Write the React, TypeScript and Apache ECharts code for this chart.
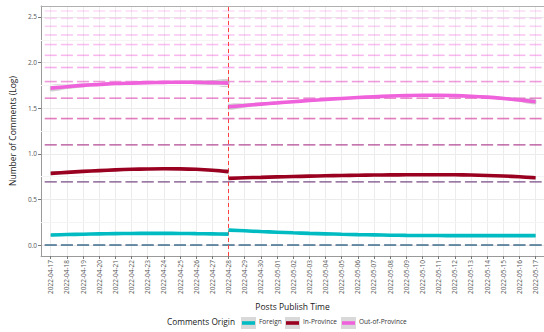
import React, { useEffect, useRef } from "react";
import * as echarts from "echarts";

// Publication dates (x axis categories, indexed 0..30)
const dates = [
  "2022-04-17", "2022-04-18", "2022-04-19", "2022-04-20", "2022-04-21",
  "2022-04-22", "2022-04-23", "2022-04-24", "2022-04-25", "2022-04-26",
  "2022-04-27", "2022-04-28", "2022-04-29", "2022-04-30", "2022-05-01",
  "2022-05-02", "2022-05-03", "2022-05-04", "2022-05-05", "2022-05-06",
  "2022-05-07", "2022-05-08", "2022-05-09", "2022-05-10", "2022-05-11",
  "2022-05-12", "2022-05-13", "2022-05-14", "2022-05-15", "2022-05-16",
  "2022-05-17",
];
const cutoffIndex = 11; // 2022-04-28

const yMajorTicks = [0, 0.5, 1, 1.5, 2, 2.5];
const yMinorTicks = [0.25, 0.75, 1.25, 1.75, 2.25];

// Observed per-post comment counts for each origin (plotted as log)
const foreignCounts = [1, 2, 3];
const inProvinceCounts = [1, 2, 3, 4, 5, 6];
const outProvinceCounts = [1, 2, 3, 4, 5, 6, 7, 8, 9, 10, 11, 12, 13];

// Smoothed fits before the cutoff (days 0..11) and after it (days 11..30)
const foreignPre = [0.11, 0.115, 0.119, 0.122, 0.125, 0.127, 0.128, 0.128, 0.127, 0.125, 0.123, 0.12];
const foreignPost = [0.164, 0.156, 0.148, 0.141, 0.134, 0.128, 0.123, 0.118, 0.114, 0.111, 0.108, 0.106, 0.105, 0.104, 0.103, 0.103, 0.103, 0.103, 0.103, 0.103];
const inProvincePre = [0.786, 0.797, 0.807, 0.816, 0.824, 0.83, 0.834, 0.836, 0.835, 0.83, 0.82, 0.805];
const inProvincePost = [0.731, 0.737, 0.742, 0.747, 0.751, 0.755, 0.759, 0.762, 0.765, 0.767, 0.769, 0.77, 0.771, 0.771, 0.77, 0.767, 0.763, 0.757, 0.748, 0.737];
const outProvincePre = [1.72, 1.735, 1.75, 1.76, 1.77, 1.775, 1.78, 1.783, 1.785, 1.783, 1.78, 1.775];
const outProvincePost = [1.515, 1.53, 1.545, 1.558, 1.571, 1.584, 1.596, 1.607, 1.617, 1.626, 1.633, 1.638, 1.641, 1.641, 1.638, 1.631, 1.621, 1.607, 1.59, 1.571];

// Standard errors of the fits
const foreignPreSe = [0.015, 0.011, 0.008, 0.007, 0.006, 0.006, 0.006, 0.006, 0.007, 0.008, 0.011, 0.015];
const foreignPostSe = [0.015, 0.011, 0.009, 0.007, 0.006, 0.006, 0.005, 0.005, 0.005, 0.005, 0.005, 0.005, 0.005, 0.005, 0.005, 0.006, 0.006, 0.007, 0.009, 0.012];
const inProvincePreSe = [0.02, 0.015, 0.012, 0.01, 0.009, 0.008, 0.008, 0.009, 0.01, 0.012, 0.015, 0.02];
const inProvincePostSe = [0.018, 0.014, 0.011, 0.009, 0.008, 0.007, 0.007, 0.007, 0.007, 0.007, 0.007, 0.007, 0.007, 0.007, 0.007, 0.008, 0.009, 0.011, 0.014, 0.018];
const outProvincePreSe = [0.035, 0.026, 0.02, 0.016, 0.014, 0.013, 0.013, 0.014, 0.016, 0.02, 0.028, 0.04];
const outProvincePostSe = [0.03, 0.023, 0.018, 0.015, 0.013, 0.012, 0.011, 0.011, 0.011, 0.011, 0.011, 0.011, 0.011, 0.011, 0.012, 0.013, 0.015, 0.018, 0.022, 0.028];

const FONT = "'Open Sans', 'Noto Sans', sans-serif";
const COLORS = {
  foreign: "#00bcc2",
  inProvince: "#9a0020",
  outProvince: "#f062dc",
};

// Opacity of the jittered point strips, by count rank
const foreignAlpha = [0.6, 0.28, 0.1];
const inProvinceAlpha = [0.6, 0.4, 0.3, 0.22, 0.14, 0.08];
const outProvinceAlpha = [0.5, 0.55, 0.6, 0.6, 0.58, 0.55, 0.5, 0.45, 0.4, 0.35, 0.3, 0.26, 0.22];

function pointSeries(name: string, counts: number[], alpha: number[], color: string) {
  const data: any[] = [];
  counts.forEach((c, k) => {
    dates.forEach((_, i) => {
      data.push({ value: [i, Math.log(c)], itemStyle: { opacity: alpha[k] } });
    });
  });
  return {
    type: "scatter",
    name: name + " points",
    data,
    symbol: "rect",
    symbolSize: [12, 1.6],
    itemStyle: { color },
    silent: true,
    z: 1,
  };
}

function fitSeries(name: string, values: number[], offset: number, color: string, extra: any = {}) {
  return {
    type: "line",
    name,
    data: values.map((v, i) => [offset + i, v]),
    smooth: 0.35,
    showSymbol: false,
    lineStyle: { color, width: 3.6 },
    itemStyle: { color },
    silent: true,
    z: 5,
    ...extra,
  };
}

// Confidence ribbon (fit ± se) drawn as one smoothed polygon
function bandSeries(values: number[], se: number[], offset: number) {
  const data = values.map((v, i) => [offset + i, v - se[i], v + se[i]]);
  return {
    type: "custom",
    silent: true,
    z: 3,
    data,
    encode: { x: 0, y: [1, 2] },
    renderItem: (params: any, api: any) => {
      if (params.dataIndex !== 0) return null;
      const lower = data.map((d) => api.coord([d[0], d[1]]));
      const upper = data.map((d) => api.coord([d[0], d[2]])).reverse();
      return {
        type: "polygon",
        shape: { points: lower.concat(upper), smooth: 0.3 },
        style: { fill: "#8c8c8c", opacity: 0.4 },
      };
    },
  };
}

const dayIndices = dates.map((_, i) => i);

export default function App() {
  const ref = useRef<HTMLDivElement>(null);

  useEffect(() => {
    if (!ref.current) return;
    const chart = echarts.init(ref.current, undefined, { renderer: "svg" });

    const legendY = 323;
    const legendItems = [
      { label: "Foreign", color: COLORS.foreign, x: 241 },
      { label: "In-Province", color: COLORS.inProvince, x: 285 },
      { label: "Out-of-Province", color: COLORS.outProvince, x: 341 },
    ];
    const graphics: any[] = [
      {
        type: "text",
        left: 167,
        top: legendY - 6,
        style: { text: "Comments Origin", font: `8.3px ${FONT}`, fill: "#1a1a1a" },
      },
    ];
    legendItems.forEach((it) => {
      graphics.push({
        type: "rect",
        shape: { x: it.x, y: legendY - 6, width: 15, height: 12 },
        style: { fill: "#d9d9d9" },
      });
      graphics.push({
        type: "rect",
        shape: { x: it.x + 1, y: legendY - 1.8, width: 13, height: 3.6 },
        style: { fill: it.color },
      });
      graphics.push({
        type: "text",
        left: it.x + 18,
        top: legendY - 5,
        style: { text: it.label, font: `6.5px ${FONT}`, fill: "#333" },
      });
    });

    const series: any[] = [
      // minor horizontal gridlines
      {
        type: "line",
        data: [],
        silent: true,
        z: 0,
        markLine: {
          silent: true,
          symbol: ["none", "none"],
          label: { show: false },
          lineStyle: { color: "#f4f4f4", type: "solid", width: 1 },
          data: yMinorTicks.map((v) => ({ yAxis: v })),
        },
      },
      pointSeries("Out-of-Province", outProvinceCounts, outProvinceAlpha, COLORS.outProvince),
      pointSeries("In-Province", inProvinceCounts, inProvinceAlpha, COLORS.inProvince),
      pointSeries("Foreign", foreignCounts, foreignAlpha, COLORS.foreign),
      bandSeries(foreignPre, foreignPreSe, 0),
      bandSeries(foreignPost, foreignPostSe, cutoffIndex),
      bandSeries(inProvincePre, inProvincePreSe, 0),
      bandSeries(inProvincePost, inProvincePostSe, cutoffIndex),
      bandSeries(outProvincePre, outProvincePreSe, 0),
      bandSeries(outProvincePost, outProvincePostSe, cutoffIndex),
      fitSeries("Foreign", foreignPre, 0, COLORS.foreign),
      fitSeries("Foreign", foreignPost, cutoffIndex, COLORS.foreign),
      fitSeries("In-Province", inProvincePre, 0, COLORS.inProvince),
      fitSeries("In-Province", inProvincePost, cutoffIndex, COLORS.inProvince),
      fitSeries("Out-of-Province", outProvincePre, 0, COLORS.outProvince),
      fitSeries("Out-of-Province", outProvincePost, cutoffIndex, COLORS.outProvince, {
        markLine: {
          silent: true,
          symbol: ["none", "none"],
          label: { show: false },
          lineStyle: { color: "#ff4040", type: [4, 3], width: 1 },
          data: [{ xAxis: cutoffIndex }],
        },
      }),
    ];

    chart.setOption({
      animation: false,
      grid: { left: 31, right: 0, top: 6, bottom: 76, containLabel: false },
      xAxis: [
        {
          type: "value",
          min: -0.6,
          max: 30.52,
          name: "Posts Publish Time",
          nameLocation: "middle",
          nameGap: 44,
          nameTextStyle: { fontFamily: FONT, fontSize: 8.5, color: "#1a1a1a" },
          axisLine: { show: true, onZero: false, lineStyle: { color: "#9a9a9a", width: 1 } },
          axisTick: { show: true, customValues: dayIndices, length: 3, lineStyle: { color: "#777" } },
          axisLabel: {
            customValues: dayIndices,
            rotate: 90,
            formatter: (v: number) => dates[Math.round(v)],
            fontFamily: FONT,
            fontSize: 6.5,
            color: "#555",
            margin: 4,
          },
          splitLine: { show: true, lineStyle: { color: "#ececec", width: 1 } },
        },
        {
          type: "value",
          position: "top",
          min: -0.6,
          max: 30.52,
          axisLine: { show: true, onZero: false, lineStyle: { color: "#b0b0b0", width: 1 } },
          axisTick: { show: false },
          axisLabel: { show: false },
          splitLine: { show: false },
        },
      ],
      yAxis: {
        type: "value",
        min: -0.12,
        max: 2.62,
        name: "Number of Comments (Log)",
        nameLocation: "middle",
        nameGap: 21,
        nameTextStyle: { fontFamily: FONT, fontSize: 8.5, color: "#1a1a1a" },
        axisLine: { show: true, onZero: false, lineStyle: { color: "#9a9a9a", width: 1 } },
        axisTick: { show: true, customValues: yMajorTicks, length: 3, lineStyle: { color: "#777" } },
        axisLabel: {
          customValues: yMajorTicks,
          formatter: (v: number) => v.toFixed(1),
          fontFamily: FONT,
          fontSize: 6.5,
          color: "#555",
          margin: 4,
        },
        splitLine: { show: true, lineStyle: { color: "#ebebeb", width: 1 } },
      },
      graphic: graphics,
      series,
    });

    return () => chart.dispose();
  }, []);

  return (
    <div
      ref={ref}
      style={{ position: "fixed", left: 0, top: 0, width: 544, height: 332, background: "#fff" }}
    />
  );
}
